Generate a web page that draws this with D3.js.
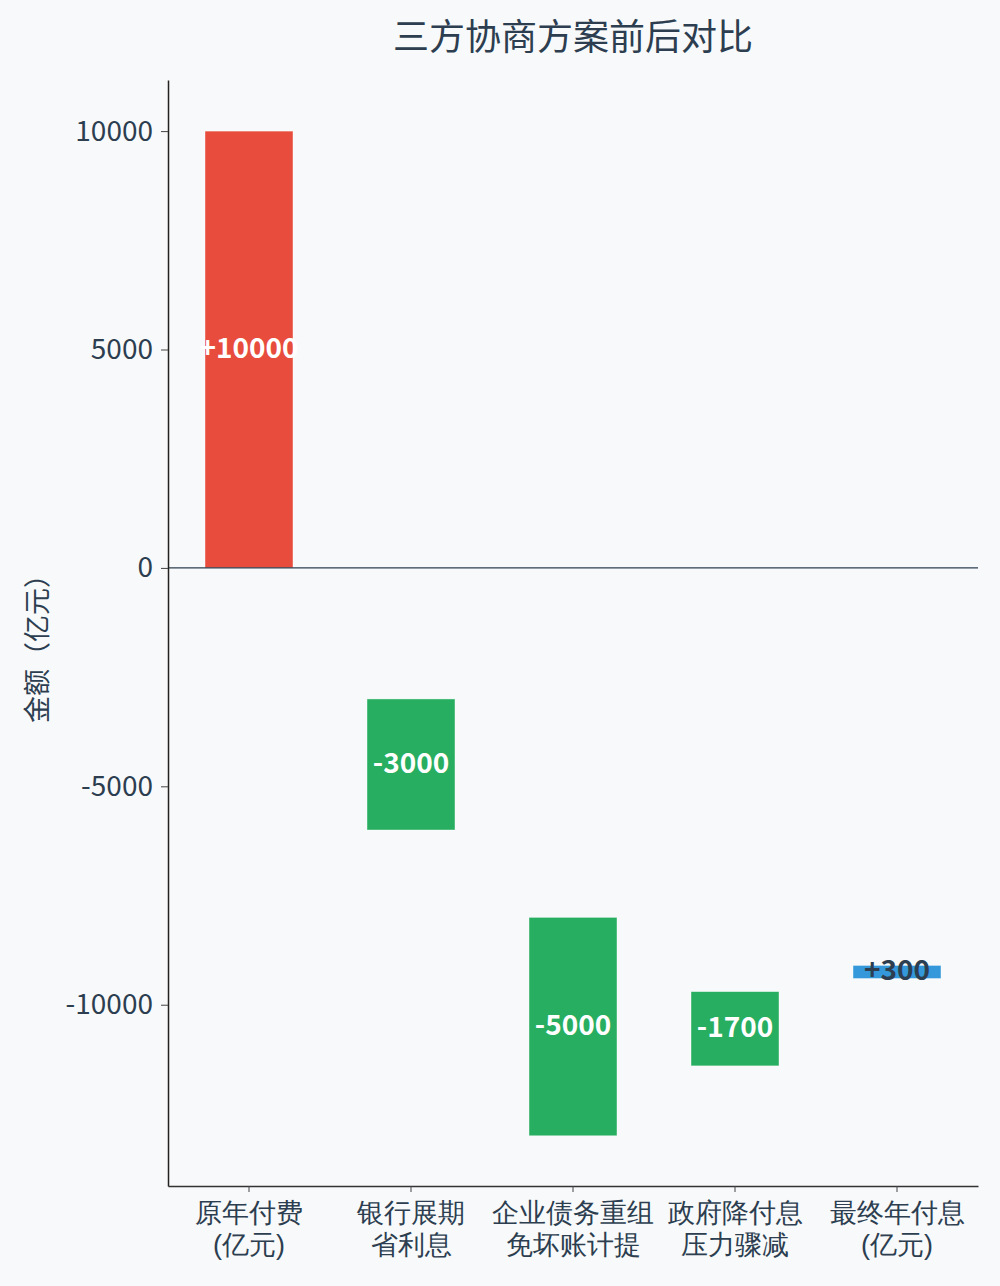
<!DOCTYPE html>
<html>
<head>
<meta charset="utf-8">
<script src="https://cdn.jsdelivr.net/npm/d3@7"></script>
<style>
  html, body { margin: 0; padding: 0; background: #f8f9fa; }
  svg { display: block; font-family: "Noto Sans CJK SC", "Noto Sans", sans-serif; }
</style>
</head>
<body>
<svg id="chart" width="1000" height="1286"></svg>
<script>
// data
const categories = ["原年付费\n(亿元)", "银行展期\n省利息", "企业债务重组\n免坏账计提", "政府降付息\n压力骤减", "最终年付息\n(亿元)"];
const changes = [10000, -3000, -5000, -1700, 300];
const bases = [0, -3000, -8000, -9700, -9400];
const barColors = ["#e74c3c", "#27ae60", "#27ae60", "#27ae60", "#3498db"];
const labelColors = ["#ffffff", "#ffffff", "#ffffff", "#ffffff", "#2c3e50"];
const yTicks = [-10000, -5000, 0, 5000, 10000];

const width = 1000, height = 1286;
const margin = { top: 80, right: 22, bottom: 100, left: 168 };
const ink = "#2c3e50";

const svg = d3.select("#chart");

const x = d3.scaleBand()
    .domain(categories)
    .range([margin.left, width - margin.right])
    .paddingInner(0.457)
    .paddingOuter(0.2285);

const y = d3.scaleLinear()
    .domain([-14150, 11170])
    .range([height - margin.bottom, margin.top]);

// title
svg.append("text")
    .attr("x", (margin.left + width - margin.right) / 2)
    .attr("y", 50)
    .attr("text-anchor", "middle")
    .attr("font-size", 36)
    .attr("fill", ink)
    .text("三方协商方案前后对比");

// bars
svg.selectAll("rect.bar")
    .data(categories)
    .enter()
    .append("rect")
    .attr("class", "bar")
    .attr("x", d => x(d))
    .attr("width", x.bandwidth())
    .attr("y", (d, i) => y(Math.max(bases[i], bases[i] + changes[i])))
    .attr("height", (d, i) => Math.abs(y(bases[i]) - y(bases[i] + changes[i])))
    .attr("fill", (d, i) => barColors[i])
    .attr("stroke", "rgba(255,255,255,0.5)")
    .attr("stroke-width", 0.8);

// zero line
svg.append("line")
    .attr("x1", margin.left)
    .attr("x2", width - margin.right)
    .attr("y1", y(0))
    .attr("y2", y(0))
    .attr("stroke", ink)
    .attr("stroke-width", 1.3);

// value labels
svg.selectAll("text.val")
    .data(categories)
    .enter()
    .append("text")
    .attr("class", "val")
    .attr("x", d => x(d) + x.bandwidth() / 2)
    .attr("y", (d, i) => y(bases[i] + changes[i] / 2))
    .attr("dy", "0.3em")
    .attr("text-anchor", "middle")
    .attr("font-size", 28)
    .attr("font-weight", "bold")
    .attr("fill", (d, i) => labelColors[i])
    .text((d, i) => (changes[i] > 0 ? "+" : "") + changes[i]);

// y axis
const yAxis = svg.append("g")
    .attr("transform", `translate(${margin.left},0)`)
    .call(d3.axisLeft(y).tickValues(yTicks).tickSize(7).tickSizeOuter(0).tickPadding(8).tickFormat(d => String(d)));
yAxis.select(".domain").attr("stroke", "#222").attr("stroke-width", 1.5);
yAxis.selectAll(".tick line").attr("stroke", "#444");
yAxis.selectAll(".tick text").attr("font-size", 28).attr("fill", ink)
    .attr("font-family", "'Noto Sans CJK SC', sans-serif");

// x axis
const xAxis = svg.append("g")
    .attr("transform", `translate(0,${height - margin.bottom})`)
    .call(d3.axisBottom(x).tickSize(6).tickSizeOuter(0));
xAxis.select(".domain").attr("stroke", "#333").attr("stroke-width", 1.5);
xAxis.selectAll(".tick line").attr("stroke", "#444");
xAxis.selectAll(".tick text").remove();
xAxis.selectAll(".tick").each(function(d) {
    const lines = d.split("\n");
    const t = d3.select(this).append("text")
        .attr("fill", ink)
        .attr("font-size", 27)
        .attr("text-anchor", "middle");
    lines.forEach((ln, k) => {
        t.append("tspan").attr("x", 0).attr("y", 36 + k * 32).text(ln);
    });
});

// y label
svg.append("text")
    .attr("transform", `translate(47,642) rotate(-90)`)
    .attr("text-anchor", "middle")
    .attr("font-size", 27)
    .attr("fill", ink)
    .text("金额（亿元）");
</script>
</body>
</html>
